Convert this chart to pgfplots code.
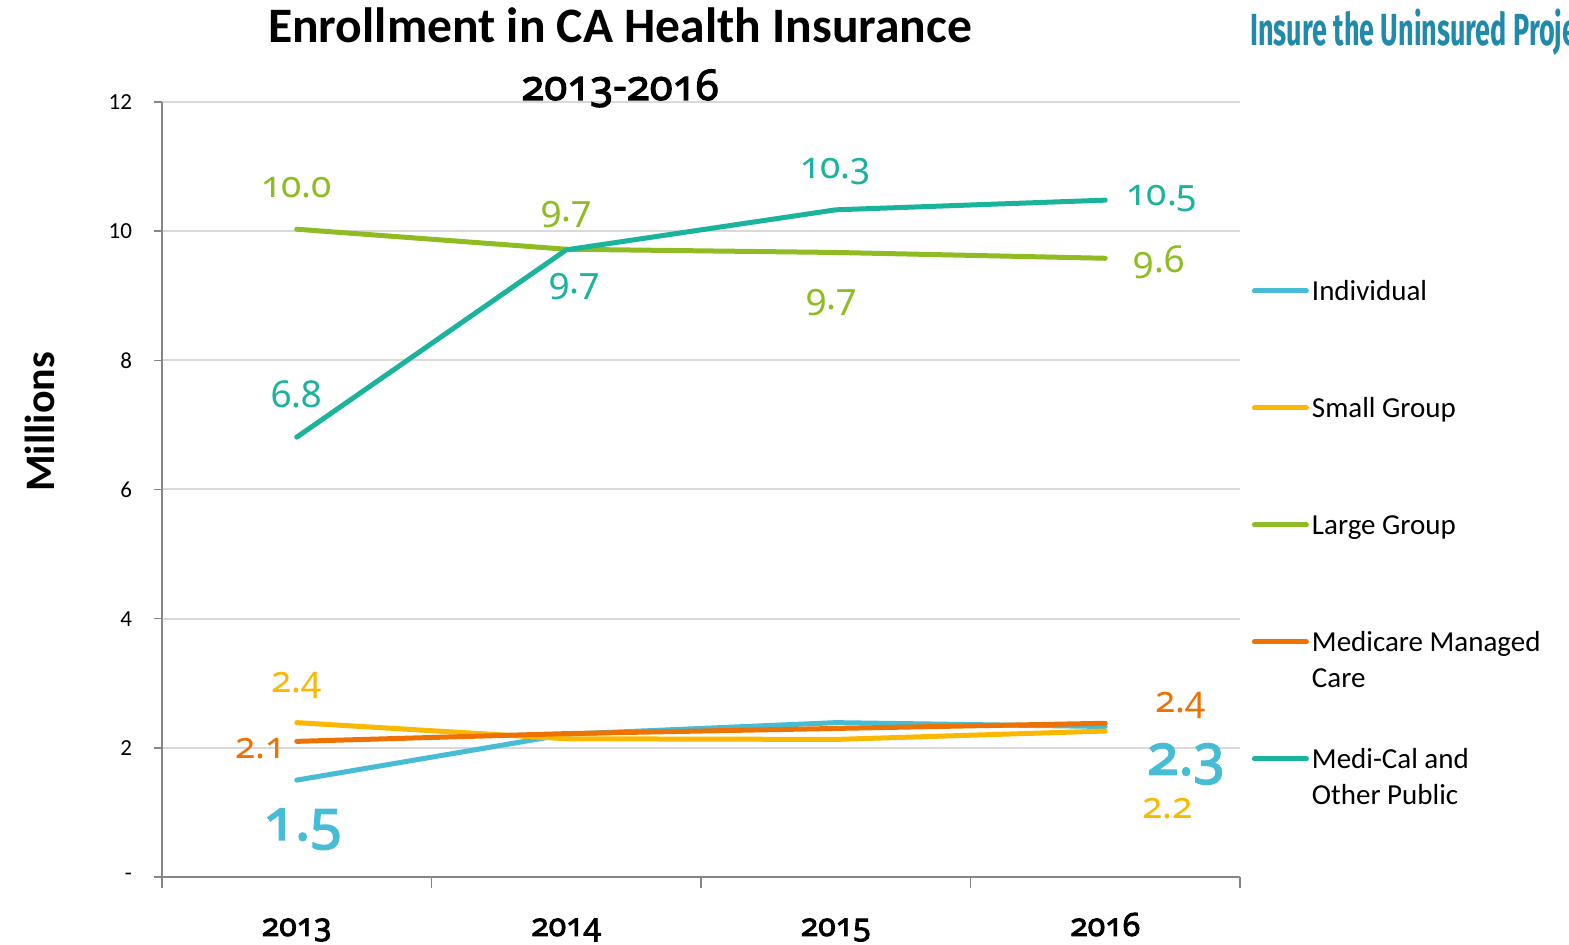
\documentclass[border=0pt]{standalone}
\usepackage{fontspec}
\setmainfont{Carlito}
\newfontfamily\numfont[Numbers=OldStyle]{Noto Sans}
\newfontfamily\numbfont[Numbers=OldStyle, FakeBold=2.6]{Noto Sans}
\newfontfamily\logofont[FakeStretch=0.6]{Fira Sans}
\usepackage{pgfplots}
\usepackage{pgfplotstable}
\pgfplotsset{compat=1.18}
\definecolor{cInd}{HTML}{46BCD5}
\definecolor{cSmall}{HTML}{FBB800}
\definecolor{cLarge}{HTML}{8FBC23}
\definecolor{cMedicare}{HTML}{EE7203}
\definecolor{cMedical}{HTML}{1AB39B}
\definecolor{cLogo}{HTML}{1F8AAA}
\definecolor{axgray}{HTML}{868686}
\definecolor{gridgray}{HTML}{D9D9D9}

\pgfplotstableread{
x y
0 1.50
1 2.21
2 2.39
3 2.33
}\individual
\pgfplotstableread{
x y
0 2.39
1 2.14
2 2.13
3 2.26
}\smallgroup
\pgfplotstableread{
x y
0 10.03
1 9.72
2 9.67
3 9.58
}\largegroup
\pgfplotstableread{
x y
0 2.10
1 2.22
2 2.30
3 2.38
}\medicare
\pgfplotstableread{
x y
0 6.81
1 9.71
2 10.33
3 10.48
}\medical

\begin{document}
\begin{tikzpicture}
\path[use as bounding box] (-81pt,-34pt) rectangle (703.5pt,438.5pt);
\begin{axis}[
  at={(0pt,0pt)}, anchor=south west, scale only axis,
  width=539pt, height=387.5pt,
  xmin=-0.5, xmax=3.5, ymin=0, ymax=12,
  axis lines*=left,
  axis line style={draw=axgray, line width=0.8pt},
  xtick={0,1,2,3}, xticklabels={2013,2014,2015,2016},
  minor xtick={-0.5,0.5,1.5,2.5,3.5},
  major x tick style={draw=none},
  minor x tick style={draw=axgray, line width=0.8pt},
  minor tick length=5.5pt,
  ytick={0,2,4,6,8,10,12}, yticklabels={-,2,4,6,8,10,12},
  y tick style={draw=axgray, line width=0.8pt},
  tick align=outside, major tick length=4pt,
  ymajorgrids, grid style={draw=gridgray, line width=1pt},
  xticklabel style={font=\numbfont\fontsize{16}{18}\selectfont, anchor=base, yshift=-25.5pt},
  yticklabel style={font=\fontsize{11.5}{13}\selectfont, anchor=east, xshift=-7.5pt},
  ylabel={Millions},
  ylabel style={font=\bfseries\fontsize{21}{24}\selectfont, at={(-0.1132,0.587)}, anchor=center},
  clip=false,
  legend style={at={(1.0111,0.7742)}, anchor=north west, draw=none, fill=none,
    inner sep=0pt, outer sep=0pt, row sep=0pt, column sep=1.5pt,
    font=\fontsize{14.5}{18}\selectfont,
    nodes={inner sep=0pt, anchor=base west, text height=12pt, text depth=46.5pt}},
  legend image code/.code={\draw[#1, line cap=round] (0pt,5pt) -- (26pt,5pt);},
]
\addplot[color=cInd, line width=2.5pt, line cap=round, line join=round] table {\individual};
\addlegendentry{Individual}
\addplot[color=cSmall, line width=2.5pt, line cap=round, line join=round] table {\smallgroup};
\addlegendentry{Small Group}
\addplot[color=cLarge, line width=2.5pt, line cap=round, line join=round] table {\largegroup};
\addlegendentry{Large Group}
\addplot[color=cMedicare, line width=2.5pt, line cap=round, line join=round] table {\medicare};
\addlegendentry{\vtop{\baselineskip=18pt\hbox{Medicare Managed}\hbox{Care}}}
\addplot[color=cMedical, line width=2.5pt, line cap=round, line join=round] table {\medical};
\addlegendentry{\vtop{\baselineskip=18pt\hbox{Medi-Cal and}\hbox{Other Public}}}

% data labels
\begin{scope}[every node/.style={font=\numfont\fontsize{18.5}{21}\selectfont, inner sep=0pt}]
\node[text=cLarge] at (axis cs:0,10.67) {10.0};
\node[text=cLarge] at (axis cs:1,10.25) {9.7};
\node[text=cLarge] at (axis cs:1.985,8.90) {9.7};
\node[text=cLarge] at (axis cs:3.2,9.52) {9.6};
\node[text=cMedical] at (axis cs:1.03,9.14) {9.7};
\node[text=cMedical] at (axis cs:2.0,10.93) {10.3};
\node[text=cMedical] at (axis cs:3.21,10.50) {10.5};
\node[text=cMedical] at (axis cs:0,7.48) {6.8};
\node[text=cSmall] at (axis cs:0,2.96) {2.4};
\node[text=cMedicare] at (axis cs:-0.134,1.98) {2.1};
\node[text=cMedicare] at (axis cs:3.28,2.65) {2.4};
\node[text=cSmall] at (axis cs:3.232,1.055) {2.2};
\node[text=cInd, font=\numbfont\fontsize{28.5}{30}\selectfont] at (axis cs:0.022,0.74) {1.5};
\node[text=cInd, font=\numbfont\fontsize{28.5}{30}\selectfont] at (axis cs:3.3,1.75) {2.3};
\end{scope}

% titles
\node[anchor=base, font=\bfseries\fontsize{24.8}{28}\selectfont] at (rel axis cs:0.4249,1.0774) {Enrollment in CA Health Insurance};
\node[anchor=base, font=\numbfont\fontsize{21}{24}\selectfont] at (rel axis cs:0.4249,1.0026) {2013-2016};
\node[anchor=base west, text=cLogo, font=\logofont\bfseries\fontsize{22.5}{24}\selectfont, inner sep=0pt] at (rel axis cs:1.0093,1.0735) {Insure the Uninsured Project};
\end{axis}
\end{tikzpicture}
\end{document}
